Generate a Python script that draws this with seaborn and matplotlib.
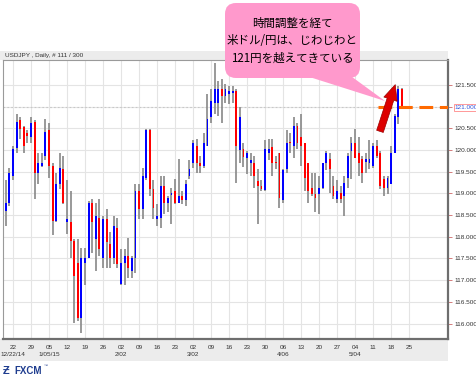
import numpy as np
import pandas as pd
import seaborn as sns
import matplotlib
matplotlib.use("Agg")
import matplotlib.pyplot as plt
from matplotlib.patches import FancyBboxPatch, Polygon, Rectangle

# ---------------- data (USD/JPY daily) ----------------
opens = [118.60,118.79,119.41,120.05,120.68,120.52,120.40,120.29,120.65,119.46,
         119.64,119.87,120.45,119.64,118.37,119.22,119.57,118.35,118.33,117.91,
         117.40,116.12,117.40,117.52,118.79,117.96,118.44,117.52,118.42,117.84,
         117.52,118.21,116.92,117.40,117.56,117.22,117.52,119.06,118.65,119.36,
         120.45,119.11,118.42,118.44,119.18,118.79,118.96,119.06,118.79,118.95,
         118.84,119.41,119.69,120.10,119.71,119.64,120.10,120.75,121.09,121.09,
         121.41,121.25,121.30,121.32,121.37,119.99,120.03,119.82,119.70,119.71,
         119.29,119.18,119.08,119.94,120.06,119.73,119.92,118.84,119.57,120.19,
         120.10,120.56,120.29,120.15,119.71,119.13,118.99,118.99,119.13,119.69,
         119.80,119.18,118.88,119.02,118.95,119.36,119.98,120.15,119.94,119.80,
         119.73,119.69,119.64,120.10,119.94,119.34,119.13,119.22,119.94,120.75,
         121.41]
highs = [119.30,119.59,120.10,120.82,120.75,120.55,120.45,120.75,120.68,119.92,
         119.92,120.72,120.63,119.70,119.48,119.94,119.87,119.30,119.06,117.96,
         117.96,117.75,117.75,118.83,118.88,118.79,118.88,118.49,118.65,118.10,
         118.49,118.44,117.73,117.73,117.98,117.56,119.22,119.22,119.59,120.49,
         120.49,119.30,118.76,119.41,119.41,118.95,119.13,119.34,119.80,119.06,
         119.30,119.76,120.22,120.26,119.87,120.40,121.30,121.41,122.01,121.60,
         121.64,121.53,121.48,121.48,121.41,120.98,120.15,119.98,119.94,119.87,
         119.57,119.30,120.22,120.26,120.26,119.87,119.94,119.57,120.45,120.40,
         120.75,120.63,120.84,120.17,119.71,119.48,119.48,119.41,119.71,119.98,
         119.94,119.41,119.30,119.18,119.41,119.92,120.29,120.49,120.29,119.87,
         119.94,120.22,120.15,120.22,119.98,119.41,119.41,120.10,120.82,121.48,
         121.44]
lows = [118.26,118.70,119.30,119.94,120.26,119.92,120.15,120.15,118.88,119.22,
        119.60,119.76,119.36,118.03,118.33,119.11,118.76,118.07,117.52,116.02,
        116.05,115.79,116.88,117.52,117.63,117.22,117.55,117.27,117.27,117.29,
        117.38,117.27,116.88,116.88,117.04,117.04,117.17,118.42,118.42,119.30,
        118.95,118.42,118.26,118.21,118.53,118.56,118.30,118.76,118.79,118.76,
        118.72,119.34,119.59,119.46,119.46,119.59,120.10,120.63,120.84,120.79,
        120.63,121.09,121.07,121.09,119.25,119.69,119.60,119.45,119.41,119.13,
        118.30,119.06,119.06,119.76,119.41,119.57,118.67,118.79,119.48,119.94,
        119.82,120.03,119.64,119.06,118.79,118.95,118.56,118.53,119.11,119.53,
        119.02,118.88,118.79,118.79,118.49,119.13,119.34,119.82,119.41,119.25,
        119.48,119.57,119.59,119.82,119.11,118.95,118.98,119.22,119.94,120.59,
        120.95]
closes = [118.79,119.46,120.03,120.65,120.49,120.10,120.33,120.63,119.46,119.69,
          119.71,120.42,119.64,118.37,119.22,119.59,118.79,118.42,117.91,117.10,
          116.12,117.52,117.52,118.79,118.33,118.49,117.73,118.42,117.87,117.52,
          118.26,117.38,117.40,117.56,117.27,117.50,119.06,118.65,119.41,120.45,
          119.11,118.67,118.47,119.18,118.79,118.90,119.00,118.79,118.95,118.84,
          119.22,119.57,120.15,119.71,119.64,120.15,120.72,121.14,121.41,121.41,
          121.25,121.41,121.37,121.37,120.10,120.75,119.85,119.92,119.77,119.41,
          119.18,119.11,120.03,120.03,119.71,119.69,118.90,119.53,120.17,120.15,
          120.56,120.17,120.10,119.36,119.06,118.99,118.90,119.13,119.69,119.92,
          119.57,118.95,119.06,118.88,119.25,119.87,120.15,119.82,119.71,119.46,
          119.80,119.80,120.10,119.87,119.18,119.13,119.36,119.94,120.79,121.41,
          121.02]

week_labels = ["22","29","05","12","19","26","02","09","16","23","02","09",
               "16","23","30","06","13","20","27","04","11","18","25"]
month_labels = ["12/22/14","","1/05/15","","","","2/02","","","","3/02","",
                "","","","4/06","","","","5/04","","",""]
price_ticks = [116.0,116.5,117.0,117.5,118.0,118.5,119.0,119.5,120.0,120.5,121.0,121.5]
current_level = 121.0
header_text = "USDJPY , Daily, # 111 / 300"
callout_lines = ["時間調整を経て", "米ドル/円は、じわじわと", "121円を越えてきている"]

df = pd.DataFrame({"open": opens, "high": highs, "low": lows, "close": closes})
df["idx"] = np.arange(len(df))
df["up"] = df["close"] >= df["open"]

# ---------------- style ----------------
sns.set_style("white")
plt.rcParams["font.family"] = ["Liberation Sans", "DejaVu Sans"]

W, H = 477, 378
fig = plt.figure(figsize=(W / 100, H / 100), dpi=100)
fig.patch.set_facecolor("white")

def fx(px):
    return px / W

def fy(py):
    return 1 - py / H

# bands (header + footer) behind axes
fig.add_artist(Rectangle((0, fy(60)), fx(448), fy(51) - fy(60), transform=fig.transFigure,
                         facecolor="#ececec", edgecolor="none", zorder=0))
fig.add_artist(Rectangle((0, fy(361)), fx(448), fy(339) - fy(361), transform=fig.transFigure,
                         facecolor="#ececec", edgecolor="none", zorder=0))

ax = fig.add_axes([fx(3.5), fy(339), fx(448) - fx(3.5), fy(60) - fy(339)])
ax.set_facecolor("white")

# grid
week_pos = [2 + 5 * k for k in range(len(week_labels))]
for xp in week_pos:
    ax.axvline(xp, color="#e4e4e4", lw=0.8, zorder=0)
for yp in price_ticks:
    ax.axhline(yp, color="#e4e4e4", lw=0.8, zorder=0)
ax.axhline(current_level, color="#c8c8c8", lw=0.8, ls=(0, (1.5, 2)), zorder=0.5)

# candles
ax.vlines(df["idx"], df["low"], df["high"], color="#8c8c8c", lw=1.25, zorder=2)
body_bottom = np.minimum(df["open"], df["close"])
body_h = np.maximum(np.abs(df["close"] - df["open"]), 0.03)
colors = np.where(df["up"], "#0000ff", "#ff0000")
ax.bar(df["idx"], body_h, bottom=body_bottom, width=0.52, color=colors,
       edgecolor="none", zorder=3)

ax.set_xlim(-0.64, 122.8)
ax.set_ylim(115.645, 122.074)

# x ticks
ax.set_xticks(week_pos)
ax.set_xticklabels([f"{w}\n{m}" for w, m in zip(week_labels, month_labels)],
                   fontsize=4.6, color="#333333", linespacing=1.45)
ax.tick_params(axis="x", direction="out", length=3, width=0.6, color="#888888", pad=1.5)

# y ticks on right
ax.yaxis.tick_right()
ax.set_yticks(price_ticks)
ax.set_yticklabels([f"{p:.3f}" for p in price_ticks], fontsize=4.6, color="#333333")
ax.tick_params(axis="y", direction="out", length=3, width=0.6, color="#cc6666", pad=2)
for lab, p in zip(ax.get_yticklabels(), price_ticks):
    if p == current_level:
        lab.set_color("#3355dd")
        lab.set_bbox(dict(facecolor="white", edgecolor="#ff8888", lw=0.6, pad=0.8))

# spines
for s in ["left", "top"]:
    ax.spines[s].set_color("#9a9a9a")
    ax.spines[s].set_linewidth(0.8)
for s in ["right", "bottom"]:
    ax.spines[s].set_color("#6e6e6e")
    ax.spines[s].set_linewidth(1.6)

# orange dashed current price line
ax.hlines(current_level, (378 - 5.8) / 3.6, 122.8, color="#ff6a00", lw=2.2,
          linestyles=(0, (4.5, 2.2)), zorder=4)

# header text
fig.text(fx(5), fy(55.5), header_text, fontsize=4.6, color="#333333", va="center", ha="left")

# FXCM logo text
fig.text(fx(3), fy(371), "Ƶ", fontsize=8, color="#1f3d8f", fontweight="bold", va="center", ha="left")
fig.text(fx(14), fy(371), "FXCM", fontsize=7, color="#1f3d8f", fontweight="bold", va="center", ha="left")
fig.text(fx(44), fy(366), "™", fontsize=3, color="#1f3d8f", va="center", ha="left")

# red arrow (data coords)
def to_data(px, py):
    return ((px - 5.8) / 3.6, current_level - (py - 106.6) / 43.4)

ax.annotate("", xy=to_data(396, 82), xytext=to_data(379, 134),
            arrowprops=dict(arrowstyle="simple,head_length=1.1,head_width=1.0,tail_width=0.5",
                            mutation_scale=10, fc="#dd0000", ec="#990000", lw=0.5),
            zorder=6, annotation_clip=False)

# callout (in inches, dpi=100)
tr = fig.dpi_scale_trans
def inch(px, py):
    return (px / 100, (H - py) / 100)

ptr = Polygon([inch(300, 74), inch(348, 74), inch(385, 101)], closed=True,
              facecolor="#ff99cc", edgecolor="none", transform=tr, zorder=10)
fig.add_artist(ptr)
box = FancyBboxPatch(inch(225, 78), 1.35, 0.75, boxstyle="round,pad=0,rounding_size=0.11",
                     transform=tr, facecolor="#ff99cc", edgecolor="none", zorder=11)
fig.add_artist(box)
for line, py in zip(callout_lines, [23, 40.5, 58]):
    x0, y0 = inch(292.5, py)
    fig.text(x0, y0, line, transform=tr, fontsize=8.3, color="black", ha="center", va="center",
             family=["Noto Sans CJK JP", "DejaVu Sans"], zorder=12)

fig.savefig("out.png", dpi=100, facecolor="white")
